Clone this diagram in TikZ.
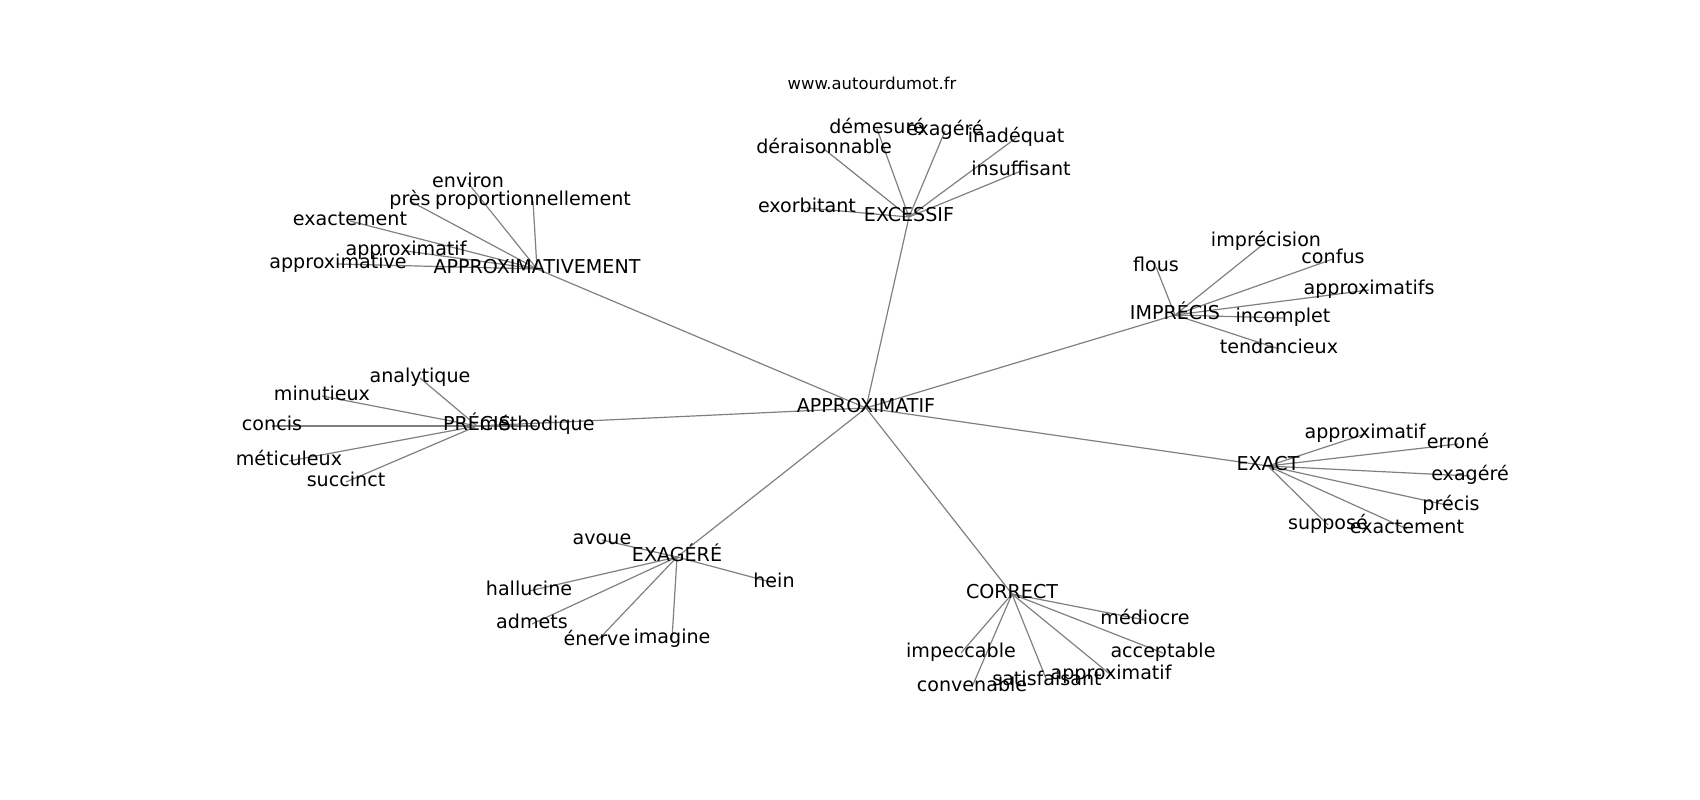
\documentclass[tikz,border=0pt]{standalone}
\usepackage{fontspec}
\setmainfont{DejaVu Sans}
\usetikzlibrary{backgrounds}

\begin{document}
\begin{tikzpicture}[x=1pt, y=-1pt,
		word/.style={inner sep=0pt, text height=14.5pt, text depth=4.6pt, font=\fontsize{19.1}{22}\selectfont},
		edge/.style={draw=gray, line width=1.2pt}]
		\useasboundingbox (0,-3) rectangle (1700,797);
		
		\node[inner sep=0pt, font=\fontsize{16.4}{20}\selectfont] (site) at (872,80) {www.autourdumot.fr};
		
		\node[word] (root) at (866,405) {APPROXIMATIF};
		
		\node[word] (a) at (537,266) {APPROXIMATIVEMENT};
		\node[word] (a1) at (468,180) {environ};
		\node[word] (a2) at (410,198) {près};
		\node[word] (a3) at (533,198) {proportionnellement};
		\node[word] (a4) at (350,218) {exactement};
		\node[word] (a5) at (406,248) {approximatif};
		\node[word] (a6) at (338,261) {approximative};
		
		\node[word] (b) at (909,214) {EXCESSIF};
		\node[word] (b1) at (877,126) {démesuré};
		\node[word] (b2) at (945,128) {exagéré};
		\node[word] (b3) at (1016,135) {inadéquat};
		\node[word] (b4) at (824,146) {déraisonnable};
		\node[word] (b5) at (1021,168) {insuffisant};
		\node[word] (b6) at (807,205) {exorbitant};
		
		\node[word] (c) at (1175,312) {IMPRÉCIS};
		\node[word] (c1) at (1266,239) {imprécision};
		\node[word] (c2) at (1156,264) {flous};
		\node[word] (c3) at (1333,256) {confus};
		\node[word] (c4) at (1369,287) {approximatifs};
		\node[word] (c5) at (1283,315) {incomplet};
		\node[word] (c6) at (1279,346) {tendancieux};
		
		\node[word] (d) at (1268,463) {EXACT};
		\node[word] (d1) at (1365,431) {approximatif};
		\node[word] (d2) at (1458,441) {erroné};
		\node[word] (d3) at (1470,473) {exagéré};
		\node[word] (d4) at (1451,503) {précis};
		\node[word] (d5) at (1328,522) {supposé};
		\node[word] (d6) at (1407,526) {exactement};
		
		\node[word] (e) at (1012,591) {CORRECT};
		\node[word] (e1) at (1145,617) {médiocre};
		\node[word] (e2) at (961,650) {impeccable};
		\node[word] (e3) at (1163,650) {acceptable};
		\node[word] (e4) at (972,684) {convenable};
		\node[word] (e5) at (1047,678) {satisfaisant};
		\node[word] (e6) at (1111,672) {approximatif};
		
		\node[word] (f) at (677,554) {EXAGÉRÉ};
		\node[word] (f1) at (602,537) {avoue};
		\node[word] (f2) at (774,580) {hein};
		\node[word] (f3) at (529,588) {hallucine};
		\node[word] (f4) at (532,621) {admets};
		\node[word] (f5) at (597,638) {énerve};
		\node[word] (f6) at (672,636) {imagine};
		
		\node[word] (g) at (477,423) {PRÉCIS};
		\node[word] (g1) at (420,375) {analytique};
		\node[word] (g2) at (322,393) {minutieux};
		\node[word] (g3) at (272,423) {concis};
		\node[word] (g4) at (537,423) {méthodique};
		\node[word] (g5) at (289,458) {méticuleux};
		\node[word] (g6) at (346,479) {succinct};
		
		\begin{scope}[on background layer]
		\draw[edge] (root.center) -- (a.center);
		\draw[edge] (root.center) -- (b.center);
		\draw[edge] (root.center) -- (c.center);
		\draw[edge] (root.center) -- (d.center);
		\draw[edge] (root.center) -- (e.center);
		\draw[edge] (root.center) -- (f.center);
		\draw[edge] (root.center) -- (g.center);
		
		\draw[edge] (a.center) -- (a1.center);
		\draw[edge] (a.center) -- (a2.center);
		\draw[edge] (a.center) -- (a3.center);
		\draw[edge] (a.center) -- (a4.center);
		\draw[edge] (a.center) -- (a5.center);
		\draw[edge] (a.center) -- (a6.center);
		
		\draw[edge] (b.center) -- (b1.center);
		\draw[edge] (b.center) -- (b2.center);
		\draw[edge] (b.center) -- (b3.center);
		\draw[edge] (b.center) -- (b4.center);
		\draw[edge] (b.center) -- (b5.center);
		\draw[edge] (b.center) -- (b6.center);
		
		\draw[edge] (c.center) -- (c1.center);
		\draw[edge] (c.center) -- (c2.center);
		\draw[edge] (c.center) -- (c3.center);
		\draw[edge] (c.center) -- (c4.center);
		\draw[edge] (c.center) -- (c5.center);
		\draw[edge] (c.center) -- (c6.center);
		
		\draw[edge] (d.center) -- (d1.center);
		\draw[edge] (d.center) -- (d2.center);
		\draw[edge] (d.center) -- (d3.center);
		\draw[edge] (d.center) -- (d4.center);
		\draw[edge] (d.center) -- (d5.center);
		\draw[edge] (d.center) -- (d6.center);
		
		\draw[edge] (e.center) -- (e1.center);
		\draw[edge] (e.center) -- (e2.center);
		\draw[edge] (e.center) -- (e3.center);
		\draw[edge] (e.center) -- (e4.center);
		\draw[edge] (e.center) -- (e5.center);
		\draw[edge] (e.center) -- (e6.center);
		
		\draw[edge] (f.center) -- (f1.center);
		\draw[edge] (f.center) -- (f2.center);
		\draw[edge] (f.center) -- (f3.center);
		\draw[edge] (f.center) -- (f4.center);
		\draw[edge] (f.center) -- (f5.center);
		\draw[edge] (f.center) -- (f6.center);
		
		\draw[edge] (g.center) -- (g1.center);
		\draw[edge] (g.center) -- (g2.center);
		\draw[edge] (g.center) -- (g3.center);
		\draw[edge] (g.center) -- (g4.center);
		\draw[edge] (g.center) -- (g5.center);
		\draw[edge] (g.center) -- (g6.center);
		\end{scope}
		
		\end{tikzpicture}
\end{document}
